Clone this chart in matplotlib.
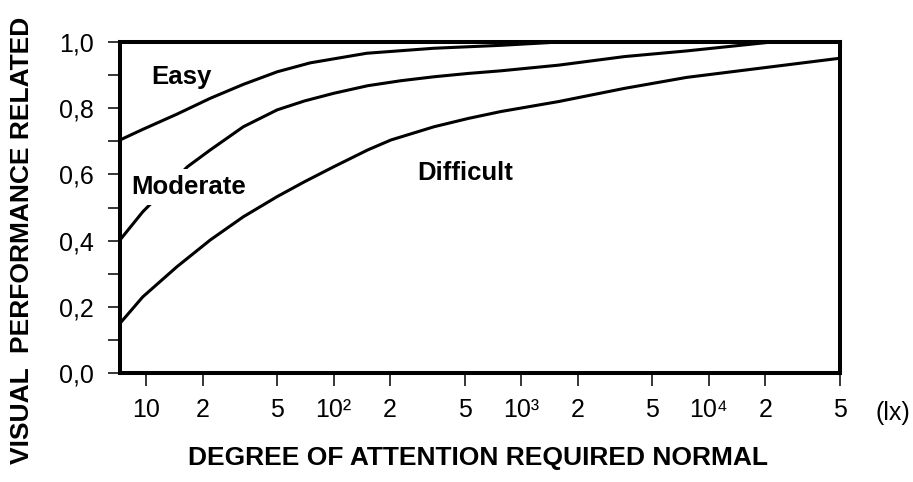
import matplotlib
matplotlib.use('Agg')
import matplotlib.pyplot as plt
from matplotlib.ticker import NullLocator

plt.rcParams['font.family'] = ['Liberation Sans', 'DejaVu Sans']

easy_lux = [7.26, 9.6, 14.6, 22, 33, 50, 75, 150, 340, 780, 1600, 50000]
easy_vals = [0.704, 0.736, 0.782, 0.83, 0.872, 0.91, 0.937, 0.966, 0.981, 0.99, 1.0, 1.0]

moderate_lux = [7.26, 9.6, 16.6, 22, 33, 50, 70, 100, 152, 228, 343, 521, 780,
                1578, 3556, 7600, 21700, 50000]
moderate_vals = [0.402, 0.487, 0.623, 0.674, 0.744, 0.795, 0.822, 0.845, 0.868,
                 0.883, 0.895, 0.905, 0.913, 0.93, 0.956, 0.973, 1.0, 1.0]

difficult_lux = [7.26, 9.6, 14.6, 22, 33, 50, 70, 100, 152, 202, 343, 521, 780,
                 1578, 3556, 7600, 50000]
difficult_vals = [0.15, 0.23, 0.321, 0.402, 0.472, 0.533, 0.578, 0.623, 0.674,
                  0.704, 0.744, 0.769, 0.79, 0.82, 0.86, 0.893, 0.951]

x_ticks = [10, 20, 50, 100, 200, 500, 1000, 2000, 5000, 10000, 20000, 50000]
x_tick_labels = ['10', '2', '5', '10²', '2', '5', '10³', '2', '5', '10⁴', '2', '5']
y_ticks = [0.0, 0.1, 0.2, 0.3, 0.4, 0.5, 0.6, 0.7, 0.8, 0.9, 1.0]
y_tick_labels = ['0,0', '', '0,2', '', '0,4', '', '0,6', '', '0,8', '', '1,0']

fig = plt.figure(figsize=(9.13, 4.82), dpi=100)
ax = fig.add_axes([120 / 913, 1 - 373 / 482, 720 / 913, 331 / 482])

for lux, vals in ((easy_lux, easy_vals),
                  (moderate_lux, moderate_vals),
                  (difficult_lux, difficult_vals)):
    ax.plot(lux, vals, color='black', linewidth=2.2, solid_capstyle='butt')

ax.set_xscale('log')
ax.set_xlim(7.26, 50000)
ax.set_ylim(0, 1.0)
ax.set_xticks(x_ticks)
ax.set_xticklabels(x_tick_labels)
ax.xaxis.set_minor_locator(NullLocator())
ax.set_yticks(y_ticks)
ax.set_yticklabels(y_tick_labels)

ax.tick_params(axis='both', direction='out', length=9, width=1.1,
               labelsize=18, color='black')
ax.tick_params(axis='x', pad=9)
ax.tick_params(axis='y', pad=10)

for side in ('left', 'right', 'top', 'bottom'):
    ax.spines[side].set_linewidth(2.9)
    ax.spines[side].set_color('black')

# curve labels
ax.text(15.4, 0.894, 'Easy', fontsize=18.5, weight='bold', ha='center', va='center')
ax.text(16.8, 0.562, 'Moderate', fontsize=18.5, weight='bold', ha='center',
        va='center', zorder=4,
        bbox=dict(boxstyle='square,pad=0.25', facecolor='white', edgecolor='none'))
ax.text(501, 0.604, 'Difficult', fontsize=18.5, weight='bold', ha='center', va='center')

fig.text(893 / 913, 1 - 413 / 482, '(lx)', fontsize=18, ha='center', va='center')
fig.text(478 / 913, 1 - 458 / 482, 'DEGREE OF ATTENTION REQUIRED NORMAL',
         fontsize=19, weight='bold', ha='center', va='center')
fig.text(22 / 913, 1 - 240 / 482, 'VISUAL  PERFORMANCE RELATED',
         fontsize=19, weight='bold', ha='center', va='center', rotation=90)

fig.savefig('out.png', dpi=100)
